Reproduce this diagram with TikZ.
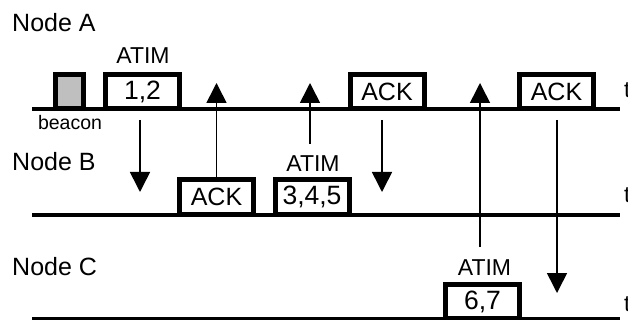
\documentclass[tikz,border=0pt]{standalone}
\usepackage{fontspec}
\setmainfont{Liberation Sans}
\usetikzlibrary{arrows.meta}

\begin{document}
\begin{tikzpicture}[x=1pt,y=-1pt,
  timeline/.style={line width=3.5pt},
  frame/.style={draw, line width=5pt, fill=white, inner sep=0pt,
    minimum width=74pt, minimum height=34pt,
    font=\fontsize{25}{30}\selectfont},
  numbox/.style={frame, font=\fontsize{26.5}{30}\selectfont},
  beaconbox/.style={draw, line width=5pt, fill=black!25, inner sep=0pt,
    minimum width=28pt, minimum height=34pt},
  nodelabel/.style={anchor=base west, inner sep=0pt, font=\fontsize{25}{30}\selectfont},
  atimlabel/.style={anchor=base, inner sep=0pt, font=\fontsize{23}{28}\selectfont},
  smalllabel/.style={anchor=base, inner sep=0pt, font=\fontsize{19.5}{24}\selectfont},
  timelabel/.style={anchor=base west, inner sep=0pt, font=\fontsize{23}{28}\selectfont},
  msg/.style={line width=1.6pt, -{Triangle[width=20pt,length=20pt]}}
]
\useasboundingbox (0,0) rectangle (628,320);

% station names
\node[nodelabel] (lblA) at (12,32) {Node A};
\node[nodelabel] (lblB) at (12,171) {Node B};
\node[nodelabel] (lblC) at (12,275) {Node C};

% time axes
\coordinate (tA0) at (32,109);  \coordinate (tA1) at (620,109);
\coordinate (tB0) at (32,215);  \coordinate (tB1) at (620,215);
\coordinate (tC0) at (32,319);  \coordinate (tC1) at (620,319);
\draw[timeline] (tA0) -- (tA1);
\draw[timeline] (tB0) -- (tB1);
\draw[timeline] (tC0) -- (tC1);
\node[timelabel] (tA) at (624,98) {t};
\node[timelabel] (tB) at (624,203) {t};
\node[timelabel] (tC) at (624,311) {t};

% frames on node A
\node[beaconbox] (beacon) at (69.5,91.5) {};
\node[smalllabel] (beaconlbl) at (70,130) {beacon};
\node[numbox] (atimA) at (142.5,91.5) {1,2};
\node[atimlabel] (atimAlbl) at (143,64) {ATIM};
\node[frame] (ackA1) at (387,92) {ACK};
\node[frame] (ackA2) at (556.5,92) {ACK};

% frames on node B
\node[frame] (ackB) at (216.5,197) {ACK};
\node[numbox] (atimB) at (312,197) {3,4,5};
\node[atimlabel] (atimBlbl) at (313,172) {ATIM};

% frames on node C
\node[numbox] (atimC) at (482.5,301.5) {6,7};
\node[atimlabel] (atimClbl) at (484.5,275) {ATIM};

% message exchanges
\coordinate (d1s) at (140,120);  \coordinate (d1e) at (140,192);
\coordinate (u1e) at (216.5,83);
\coordinate (u2s) at (310,144);  \coordinate (u2e) at (310,83);
\coordinate (d2s) at (382,120);  \coordinate (d2e) at (382,192);
\coordinate (u3s) at (480,247);  \coordinate (u3e) at (480,83);
\coordinate (d3s) at (557,120);  \coordinate (d3e) at (557,293);

\draw[msg] (d1s) -- (d1e);
\draw[msg] (ackB.north) -- (u1e);
\draw[msg] (u2s) -- (u2e);
\draw[msg] (d2s) -- (d2e);
\draw[msg] (u3s) -- (u3e);
\draw[msg] (d3s) -- (d3e);
\end{tikzpicture}
\end{document}
